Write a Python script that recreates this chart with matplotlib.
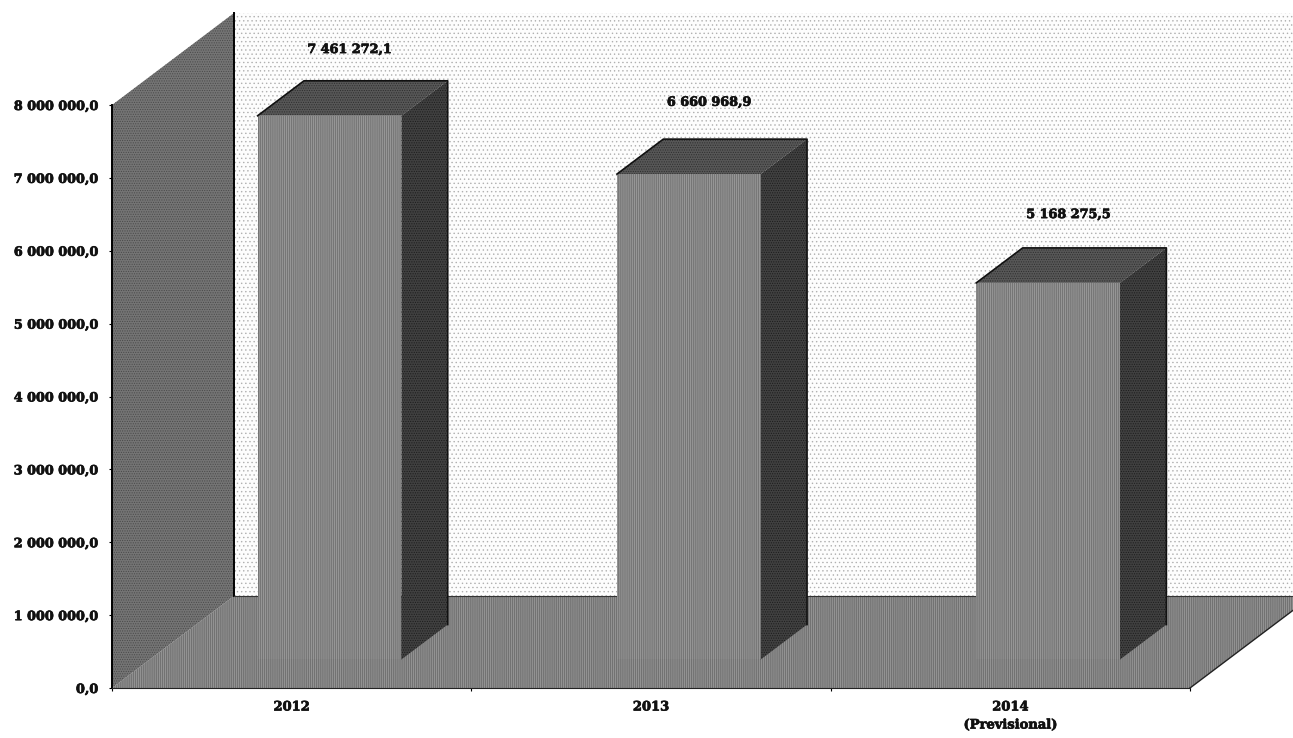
import numpy as np
import matplotlib
matplotlib.use('Agg')
import matplotlib.pyplot as plt
import matplotlib.patheffects as pe

years = ['2012', '2013', '2014\n(Previsional)']
valores = [7461272.1, 6660968.9, 5168275.5]
etiquetas = ['7 461 272,1', '6 660 968,9', '5 168 275,5']
marcas_y = [0, 1000000, 2000000, 3000000, 4000000, 5000000, 6000000, 7000000, 8000000]
marcas_y_txt = ['0,0', '1 000 000,0', '2 000 000,0', '3 000 000,0', '4 000 000,0',
                '5 000 000,0', '6 000 000,0', '7 000 000,0', '8 000 000,0']

# depth of the 3D box, in axis units
prof_x = 0.3395
prof_y = 1262000
ancho = 0.40
prof_frente = 0.31
prof_fondo = 0.69

# label offset above each bar, in points
subida = [22.5, 26.5, 24]

plt.rcParams['font.family'] = ['DejaVu Serif']
plt.rcParams['hatch.linewidth'] = 0.5

W, H = 1293, 738
fig = plt.figure(figsize=(W / 100, H / 100), dpi=100)
ax = fig.add_axes([112 / W, (H - 688) / H, 1078 / W, 583 / H])
ax.set_xlim(-0.5, 2.5)
ax.set_ylim(0, 8000000)
ax.patch.set_visible(False)

negrita = [pe.withStroke(linewidth=0.5, foreground='#111111')]


def punto(x, y, d):
    return x + d * prof_x, y + d * prof_y


def cara(puntos, **kw):
    xs = [p[0] for p in puntos]
    ys = [p[1] for p in puntos]
    ax.fill(xs, ys, clip_on=False, linewidth=0, **kw)


xi, xf = -0.5, 2.5
ymax = 8000000

# back wall, stippled
cara([punto(xi, 0, 1), punto(xf, 0, 1), punto(xf, ymax, 1), punto(xi, ymax, 1)],
     facecolor='#fdfdfd', edgecolor='#b0b0b0', hatch='....', zorder=1)
# left wall
cara([punto(xi, 0, 0), punto(xi, 0, 1), punto(xi, ymax, 1), punto(xi, ymax, 0)],
     facecolor='#747474', edgecolor='#4a4a4a', hatch='.......', zorder=2)
ax.plot(*zip(punto(xi, 0, 1), punto(xi, ymax, 1)), color='black', lw=1.4, clip_on=False, zorder=3)
# floor
cara([punto(xi, 0, 0), punto(xf, 0, 0), punto(xf, 0, 1), punto(xi, 0, 1)],
     facecolor='#727272', edgecolor='#a0a0a0', hatch='||||||||', zorder=2)
ax.plot(*zip(punto(xi, 0, 1), punto(xf, 0, 1)), color='#333333', lw=0.8, clip_on=False, zorder=3)
ax.plot(*zip(punto(xf, 0, 0), punto(xf, 0, 1)), color='#222222', lw=1, clip_on=False, zorder=3)

for i, (v, txt) in enumerate(zip(valores, etiquetas)):
    x0, x1 = i - ancho / 2, i + ancho / 2
    # top
    cara([punto(x0, v, prof_frente), punto(x1, v, prof_frente),
          punto(x1, v, prof_fondo), punto(x0, v, prof_fondo)],
         facecolor='#575757', edgecolor='#2e2e2e', hatch='.......', zorder=4)
    # side
    cara([punto(x1, 0, prof_frente), punto(x1, 0, prof_fondo),
          punto(x1, v, prof_fondo), punto(x1, v, prof_frente)],
         facecolor='#404040', edgecolor='#1c1c1c', hatch='.......', zorder=4)
    # front
    cara([punto(x0, 0, prof_frente), punto(x1, 0, prof_frente),
          punto(x1, v, prof_frente), punto(x0, v, prof_frente)],
         facecolor='#767676', edgecolor='#a4a4a4', hatch='||||||||', zorder=5)
    ax.plot(*zip(punto(x0, v, prof_frente), punto(x0, v, prof_fondo), punto(x1, v, prof_fondo),
                 punto(x1, 0, prof_fondo)), color='#111111', lw=1.2, clip_on=False, zorder=6)
    # the label sits left of the back edge centre
    px, py = punto(i, v, prof_fondo)
    t = ax.annotate(txt, (px, py), xytext=(-19, subida[i]), textcoords='offset points',
                    ha='center', va='center', fontsize=9.2, fontweight='bold', color='#111111',
                    annotation_clip=False, zorder=7)
    t.set_path_effects(negrita)

for s in ['top', 'right']:
    ax.spines[s].set_visible(False)
ax.spines['left'].set_linewidth(1.4)
ax.spines['bottom'].set_color('#222222')
ax.spines['left'].set_zorder(8)
ax.spines['bottom'].set_zorder(8)

ax.set_yticks(marcas_y)
ax.set_yticklabels(marcas_y_txt, fontsize=9.2, fontweight='bold', color='#111111', path_effects=negrita)
ax.tick_params(axis='y', length=2, pad=8, width=0.8)

ax.set_xticks([-0.5, 0.5, 1.5, 2.5])
ax.set_xticklabels([])
ax.set_xticks([0, 1, 2], minor=True)
ax.set_xticklabels(years, minor=True, fontsize=9.4, fontweight='bold', color='#111111',
                   linespacing=1.5, path_effects=negrita)
ax.tick_params(axis='x', which='major', length=2, width=0.8)
ax.tick_params(axis='x', which='minor', length=0, pad=9)

fig.savefig('out.png', dpi=100)
